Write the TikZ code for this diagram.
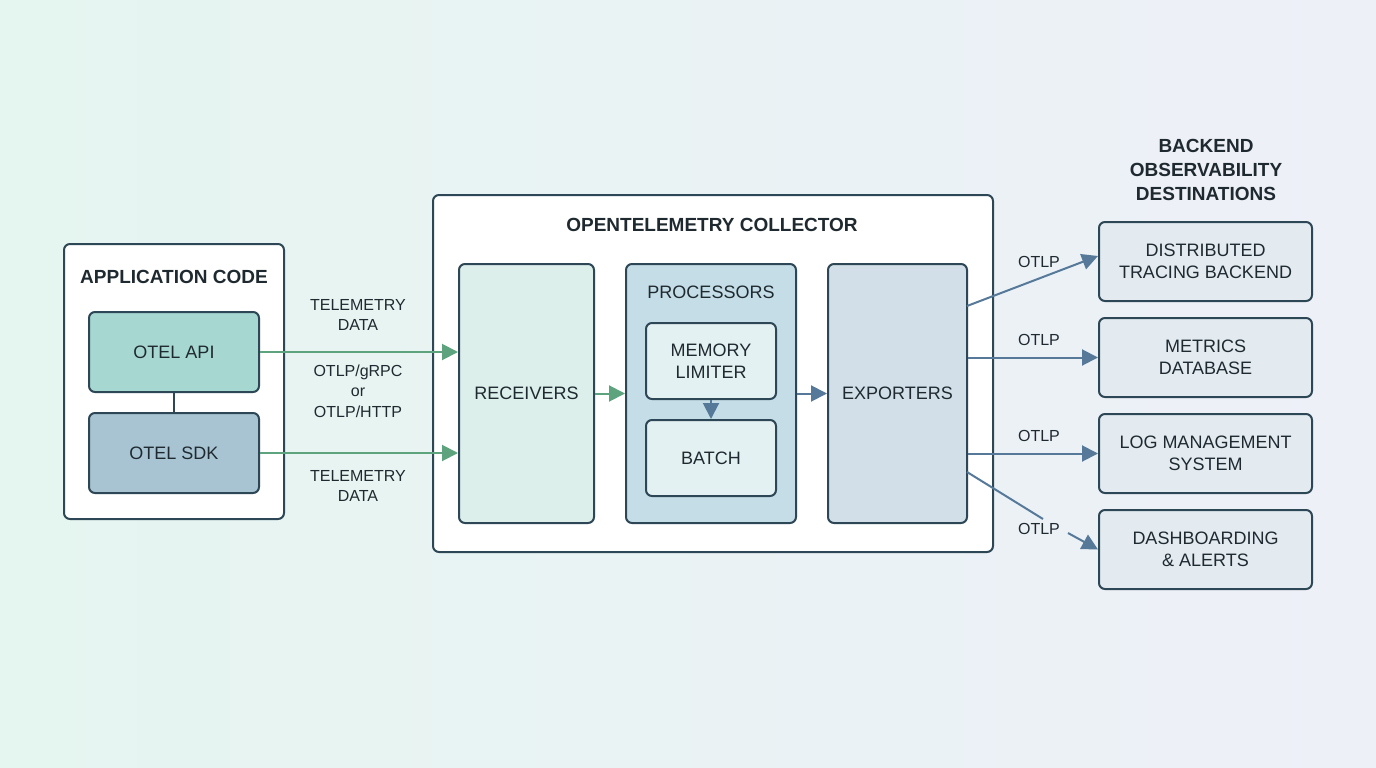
\documentclass[tikz,border=0pt]{standalone}
\usepackage{fontspec}
\setmainfont{Liberation Sans}
\usetikzlibrary{arrows.meta,positioning}
\definecolor{bordc}{HTML}{2E4756}
\definecolor{apifill}{HTML}{A6D8D1}
\definecolor{sdkfill}{HTML}{A8C4D3}
\definecolor{recvfill}{HTML}{DCEFEB}
\definecolor{procfill}{HTML}{C4DDE6}
\definecolor{subfill}{HTML}{E4F1F3}
\definecolor{expfill}{HTML}{D2DFE8}
\definecolor{destfill}{HTML}{E3EBF1}
\definecolor{greenarr}{HTML}{5DA47E}
\definecolor{bluearr}{HTML}{56799A}
\definecolor{bgA}{HTML}{E5F5F0}
\definecolor{bgB}{HTML}{EEF0F8}
\definecolor{txt}{HTML}{1F2A30}
\tikzset{
  box/.style={draw=bordc, line width=2pt, rounded corners=6pt, text=txt, align=center, font=\fontsize{18}{22.5}\selectfont, inner sep=0pt},
  ttl/.style={text=txt, align=center, font=\fontsize{19}{24}\selectfont\bfseries, inner sep=0pt},
  lbl/.style={text=txt, align=center, font=\fontsize{16}{20.5}\selectfont, inner sep=0pt},
  garr/.style={draw=greenarr, line width=2pt, -{Triangle[length=16pt,width=16pt,fill=greenarr]}},
  barr/.style={draw=bluearr, line width=2pt, -{Triangle[length=16pt,width=16pt,fill=bluearr]}},
  bline/.style={draw=bluearr, line width=2pt},
}
\begin{document}
\begin{tikzpicture}[x=1pt,y=-1pt]
\shade[left color=bgA, right color=bgB] (0,0) rectangle (1376,768);
\useasboundingbox (0,0) rectangle (1376,768);

% application code
\node[box, fill=white, minimum width=220pt, minimum height=275pt] (app) at (174,381.5) {};
\node[ttl] (apptitle) at (174,277) {APPLICATION CODE};
\node[box, fill=apifill, minimum width=170pt, minimum height=80pt] (api) at (174,352) {OTEL API};
\node[box, fill=sdkfill, minimum width=170pt, minimum height=80pt] (sdk) at (174,453) {OTEL SDK};
\draw[bordc, line width=2pt] (api.south) -- (sdk.north);

% collector
\node[box, fill=white, minimum width=560pt, minimum height=357pt] (coll) at (713,373.5) {};
\node[ttl] (colltitle) at (712,225) {OPENTELEMETRY COLLECTOR};
\node[box, fill=recvfill, minimum width=135pt, minimum height=259pt] (recv) at (526.5,393.5) {RECEIVERS};
\node[box, fill=procfill, minimum width=170pt, minimum height=259pt] (proc) at (711,393.5) {};
\node[text=txt, font=\fontsize{18}{22}\selectfont, inner sep=0pt] (proctitle) at (711,292) {PROCESSORS};
\node[box, fill=subfill, minimum width=130pt, minimum height=76pt] (mem) at (711,361) {MEMORY\\LIMITER};
\node[box, fill=subfill, minimum width=130pt, minimum height=76pt] (batch) at (711,458) {BATCH};
\node[box, fill=expfill, minimum width=139pt, minimum height=259pt] (exp) at (897.5,393.5) {EXPORTERS};

% arrows into receivers
\draw[garr] (api.east) -- (recv.west |- api.east);
\draw[garr] (sdk.east) -- (recv.west |- sdk.east);
\node[lbl] (l1) at (358,315) {TELEMETRY\\DATA};
\node[lbl] (l2) at (358,391) {OTLP/gRPC\\or\\OTLP/HTTP};
\node[lbl] (l3) at (358,486) {TELEMETRY\\DATA};

\draw[garr] (recv.east) -- (proc.west);
\draw[barr] (proc.east) -- (exp.west);
\draw[barr] (mem.south) -- (batch.north);

% destinations
\node[ttl] (desttitle) at (1206,170) {BACKEND\\OBSERVABILITY\\DESTINATIONS};
\node[box, fill=destfill, minimum width=213pt, minimum height=79pt] (trace) at (1205.5,261.5) {DISTRIBUTED\\TRACING BACKEND};
\node[box, fill=destfill, minimum width=213pt, minimum height=79pt] (metr) at (1205.5,357.5) {METRICS\\DATABASE};
\node[box, fill=destfill, minimum width=213pt, minimum height=79pt] (logs) at (1205.5,453.5) {LOG MANAGEMENT\\SYSTEM};
\node[box, fill=destfill, minimum width=213pt, minimum height=79pt] (dash) at (1205.5,549.5) {DASHBOARDING\\\& ALERTS};

\coordinate (e1) at (967,306);
\coordinate (e4) at (967,472);
\coordinate (g1) at (1043,519);
\coordinate (g2) at (1068,533);
\draw[barr] (e1) -- (trace.west |- 0,256);
\draw[barr] (metr.west -| exp.east) -- (metr.west);
\draw[barr] (logs.west -| exp.east) -- (logs.west);
\draw[bline] (e4) -- (g1);
\draw[barr] (g2) -- (dash.west);
\node[lbl] (o1) at (1039,262) {OTLP};
\node[lbl] (o2) at (1039,340) {OTLP};
\node[lbl] (o3) at (1039,436) {OTLP};
\node[lbl] (o4) at (1039,529) {OTLP};
\end{tikzpicture}
\end{document}
